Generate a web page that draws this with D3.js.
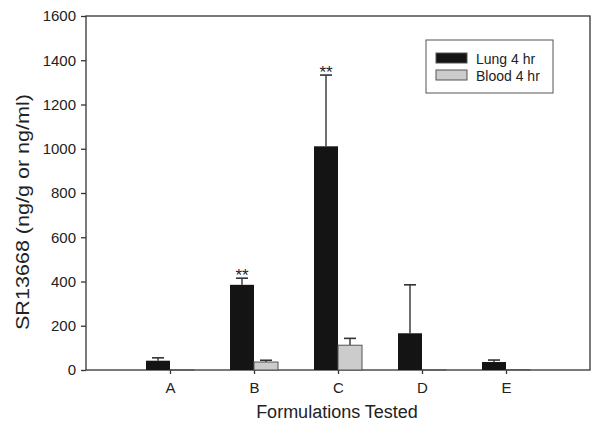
<!DOCTYPE html>
<html><head><meta charset="utf-8">
<script src="https://cdn.jsdelivr.net/npm/d3@7"></script>
<style>body{margin:0;background:#fff}svg{display:block;font-family:"Liberation Sans",Arial,sans-serif}</style>
</head><body><svg id="c" width="600" height="434"></svg>
<script>
const categories = ["A","B","C","D","E"];
const seriesNames = ["Lung 4 hr","Blood 4 hr"];
const lungValues = [42, 385, 1011, 166, 36];
const lungErrors = [13, 30, 322, 219, 9];
const bloodValues = [1.5, 36, 112, 1.5, 2];
const bloodErrors = [0, 8, 31, 0, 0];
const significant = [false, true, true, false, false];
const yTicks = [0,200,400,600,800,1000,1200,1400,1600];

const svg = d3.select("#c");
const L=86,R=590,T=16,B=370;
const x = d3.scaleLinear().domain([0,6]).range([L,R]);
const y = d3.scaleLinear().domain([0,1600]).range([B,T]);
const bw = 24, axisCol="#333";

// frame
svg.append("rect").attr("x",L).attr("y",T).attr("width",R-L).attr("height",B-T)
  .attr("fill","none").attr("stroke",axisCol).attr("stroke-width",1.3);

const yAxis = svg.append("g").attr("transform",`translate(${L},0)`)
  .call(d3.axisLeft(y).tickValues(yTicks).tickSize(5).tickPadding(5).tickFormat(d3.format("d")));
yAxis.select(".domain").remove();
yAxis.selectAll("line").attr("stroke",axisCol).attr("stroke-width",1.3);
yAxis.selectAll("text").attr("font-size",15).attr("fill","#222").attr("font-family","Liberation Sans, Arial, sans-serif");

const xAxis = svg.append("g").attr("transform",`translate(0,${B})`)
  .call(d3.axisBottom(x).tickValues([1,2,3,4,5]).tickSize(4).tickPadding(8).tickFormat(d=>categories[d-1]));
xAxis.select(".domain").remove();
xAxis.selectAll("line").attr("stroke",axisCol).attr("stroke-width",1.3);
xAxis.selectAll("text").attr("font-size",15).attr("fill","#222").attr("font-family","Liberation Sans, Arial, sans-serif");

function errBars(vals, errs, off){
  vals.forEach((v,i)=>{
    if(!errs[i]) return;
    const cx = x(i+1)+off;
    svg.append("line").attr("x1",cx).attr("x2",cx).attr("y1",y(v)).attr("y2",y(v+errs[i]))
      .attr("stroke",axisCol).attr("stroke-width",1.4);
    svg.append("line").attr("x1",cx-6).attr("x2",cx+6).attr("y1",y(v+errs[i])).attr("y2",y(v+errs[i]))
      .attr("stroke",axisCol).attr("stroke-width",1.6);
  });
}
errBars(lungValues,lungErrors,-bw/2);
errBars(bloodValues,bloodErrors,bw/2);

svg.selectAll("rect.lung").data(lungValues).enter().append("rect").attr("class","lung")
  .attr("x",(d,i)=>x(i+1)-bw).attr("y",d=>y(d)).attr("width",bw).attr("height",d=>B-y(d))
  .attr("fill","#141414");
svg.selectAll("rect.blood").data(bloodValues).enter().append("rect").attr("class","blood")
  .attr("x",(d,i)=>x(i+1)).attr("y",d=>y(d)).attr("width",bw).attr("height",d=>B-y(d))
  .attr("fill","#cccccc").attr("stroke","#555").attr("stroke-width",1);

significant.forEach((s,i)=>{
  if(!s) return;
  svg.append("text").attr("x",x(i+1)-bw/2).attr("y",y(lungValues[i]+lungErrors[i])+3)
    .attr("text-anchor","middle").attr("font-size",17).attr("fill","#222").text("**");
});

// titles
svg.append("text").attr("x",337).attr("y",418).attr("text-anchor","middle")
  .attr("font-size",18).attr("fill","#222").text("Formulations Tested");
svg.append("text").attr("transform","translate(28.5,212) rotate(-90)").attr("text-anchor","middle")
  .attr("font-size",18).attr("fill","#222").attr("textLength",236).attr("lengthAdjust","spacingAndGlyphs")
  .text("SR13668 (ng/g or ng/ml)");

// legend
const lg = svg.append("g");
lg.append("rect").attr("x",426).attr("y",40).attr("width",127).attr("height",53)
  .attr("fill","#fff").attr("stroke","#555").attr("stroke-width",1);
const legFill=["#141414","#cccccc"];
seriesNames.forEach((n,i)=>{
  lg.append("rect").attr("x",436).attr("y",53+i*17).attr("width",31).attr("height",10)
    .attr("fill",legFill[i]).attr("stroke","#555").attr("stroke-width",1);
  lg.append("text").attr("x",476).attr("y",63.5+i*17.3).attr("font-size",14).attr("fill","#222").text(n);
});
</script></body></html>
